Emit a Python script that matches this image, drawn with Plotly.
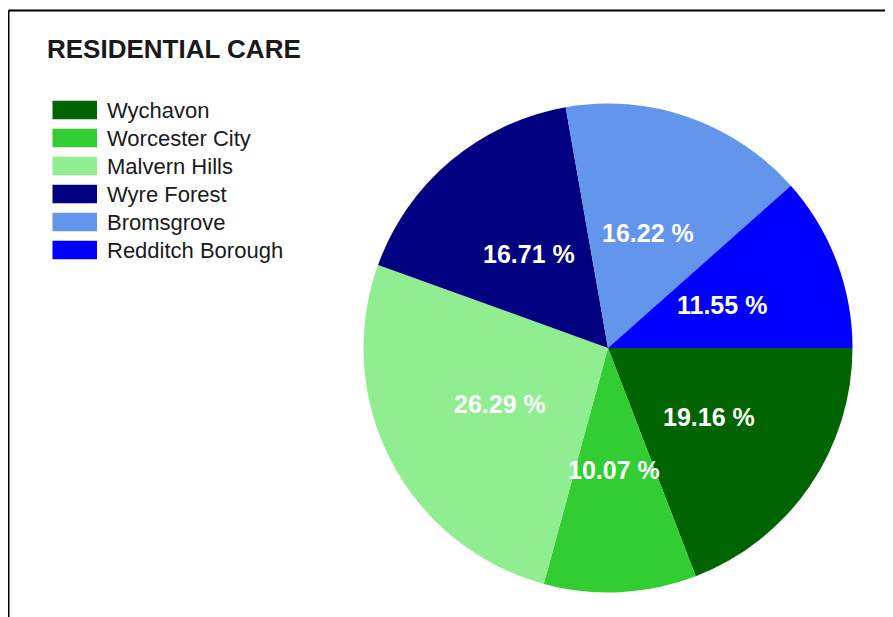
"""Residential care pie chart by district."""

import math

import plotly.graph_objects as go

districts = ["Wychavon", "Worcester City", "Malvern Hills", "Wyre Forest", "Bromsgrove", "Redditch Borough"]
shares = [19.16, 10.07, 26.29, 16.71, 16.22, 11.55]
colors = ["#006400", "#32CD32", "#90EE90", "#000080", "#6495ED", "#0000FF"]

# page body has an 8px margin, so the figure sits 8px in from the window edge
W, H = 885, 609
CX, CY, R = 600, 340, 244.5  # pie centre / radius in figure pixels


def px_x(x):
    return x / W


def px_y(y):
    return 1 - y / H


fig = go.Figure(
    go.Pie(
        labels=districts,
        values=shares,
        sort=False,
        direction="clockwise",
        rotation=90,
        marker=dict(colors=colors, line=dict(width=0)),
        textinfo="none",
        domain=dict(x=[px_x(CX - R), px_x(CX + R)], y=[px_y(CY + R), px_y(CY - R)]),
        showlegend=False,
        hoverinfo="label+percent",
    )
)

# percentage labels at half radius, like the original chart control
total = sum(shares)
cum = 0.0
for val in shares:
    theta = math.radians((cum + val / 2) / total * 360)
    cum += val
    fig.add_annotation(
        text=f"<b>{val:.2f} %</b>", xref="paper", yref="paper",
        x=px_x(CX + 0.5 * R * math.cos(theta)), y=px_y(CY + 0.5 * R * math.sin(theta)),
        xanchor="center", yanchor="middle", showarrow=False,
        font=dict(family="Liberation Sans", size=25, color="white"),
    )

# frame (top and left edges only, as in the source)
fig.add_shape(type="line", xref="paper", yref="paper", x0=px_x(0.5), x1=1, y0=px_y(2.5), y1=px_y(2.5),
              line=dict(color="black", width=2))
fig.add_shape(type="line", xref="paper", yref="paper", x0=px_x(0.5), x1=px_x(0.5), y0=0, y1=px_y(2.5),
              line=dict(color="black", width=2))

fig.add_annotation(
    text="<b>RESIDENTIAL CARE</b>", xref="paper", yref="paper", x=px_x(37), y=px_y(41.5),
    xanchor="left", yanchor="middle", showarrow=False,
    font=dict(family="Liberation Sans", size=26, color="#1a1a1a"),
)

# custom legend with wide swatches
for i, (name, col) in enumerate(zip(districts, colors)):
    cy = 102 + 28 * i
    fig.add_shape(type="rect", xref="paper", yref="paper",
                  x0=px_x(44.5), x1=px_x(89), y0=px_y(cy + 9.3), y1=px_y(cy - 9.3),
                  fillcolor=col, line=dict(width=0))
    fig.add_annotation(text=name, xref="paper", yref="paper", x=px_x(97), y=px_y(cy + 0.5),
                       xanchor="left", yanchor="middle", showarrow=False,
                       font=dict(family="Liberation Sans", size=22, color="#1a1a1a"))

fig.update_layout(
    width=W,
    height=H,
    margin=dict(l=0, r=0, t=0, b=0),
    paper_bgcolor="white",
    plot_bgcolor="white",
)

fig.write_html("out.html")
